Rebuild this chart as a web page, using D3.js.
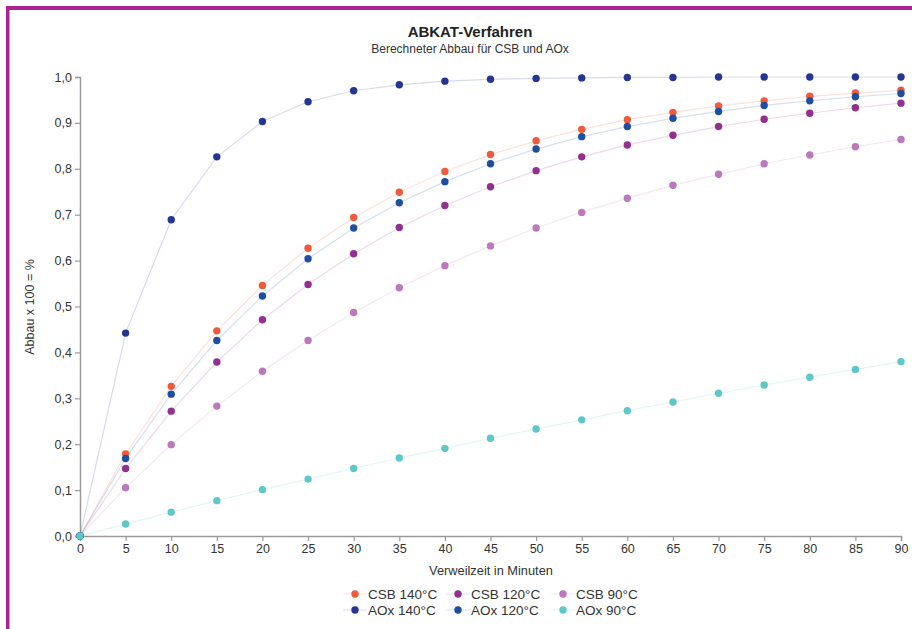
<!DOCTYPE html>
<html>
<head>
<meta charset="utf-8">
<script src="https://cdn.jsdelivr.net/npm/d3@7"></script>
<style>
  body { margin: 0; background: #fff; }
  svg { display: block; font-family: "Liberation Sans", Arial, sans-serif; }
</style>
</head>
<body>
<svg id="chart" width="912" height="629"></svg>
<script>
const minutes = [0, 5, 10, 15, 20, 25, 30, 35, 40, 45, 50, 55, 60, 65, 70, 75, 80, 85, 90];

const csb140 = [0, 0.179, 0.326, 0.447, 0.546, 0.627, 0.694, 0.749, 0.794, 0.831, 0.861, 0.886, 0.907, 0.923, 0.937, 0.948, 0.958, 0.965, 0.971];
const csb120 = [0, 0.147, 0.272, 0.379, 0.471, 0.548, 0.615, 0.672, 0.720, 0.761, 0.796, 0.826, 0.852, 0.873, 0.892, 0.908, 0.921, 0.933, 0.943];
const csb90 = [0, 0.105, 0.199, 0.283, 0.359, 0.426, 0.487, 0.541, 0.589, 0.632, 0.671, 0.705, 0.736, 0.764, 0.788, 0.811, 0.830, 0.848, 0.864];
const aox140 = [0, 0.442, 0.689, 0.826, 0.903, 0.946, 0.970, 0.983, 0.991, 0.995, 0.997, 0.998, 0.999, 0.999, 1.0, 1.0, 1.0, 1.0, 1.0];
const aox120 = [0, 0.169, 0.309, 0.426, 0.523, 0.604, 0.671, 0.726, 0.772, 0.811, 0.843, 0.870, 0.892, 0.910, 0.925, 0.938, 0.948, 0.957, 0.964];
const aox90 = [0, 0.026, 0.052, 0.077, 0.101, 0.124, 0.147, 0.170, 0.191, 0.213, 0.233, 0.253, 0.273, 0.292, 0.311, 0.329, 0.346, 0.363, 0.380];

const yTicks = [0, 0.1, 0.2, 0.3, 0.4, 0.5, 0.6, 0.7, 0.8, 0.9, 1.0];

// legend order: row by row
const series = [
  { name: 'CSB 140°C', values: csb140, color: '#ef5a3a' },
  { name: 'CSB 120°C', values: csb120, color: '#93308f' },
  { name: 'CSB 90°C', values: csb90, color: '#bb78bb' },
  { name: 'AOx 140°C', values: aox140, color: '#263592' },
  { name: 'AOx 120°C', values: aox120, color: '#1d4ea1' },
  { name: 'AOx 90°C', values: aox90, color: '#5ec8c9' }
];

const svg = d3.select('#chart');

// magenta frame
svg.append('rect').attr('x', 6).attr('y', 6).attr('width', 906).attr('height', 4).attr('fill', '#ab2391');
svg.append('rect').attr('x', 6).attr('y', 6).attr('width', 3.5).attr('height', 623).attr('fill', '#ab2391');

svg.append('text').attr('x', 470).attr('y', 37).attr('text-anchor', 'middle')
  .attr('font-size', 15).attr('font-weight', 'bold').attr('fill', '#222').text('ABKAT-Verfahren');
svg.append('text').attr('x', 470).attr('y', 53).attr('text-anchor', 'middle')
  .attr('font-size', 12).attr('fill', '#333').text('Berechneter Abbau für CSB und AOx');

const x = d3.scaleLinear().domain([0, 90]).range([80, 901]);
const y = d3.scaleLinear().domain([0, 1]).range([536, 77]);

const fmt = d3.format('.1f');

const xAxis = svg.append('g').attr('transform', `translate(0,${y(0)})`)
  .call(d3.axisBottom(x).tickValues(minutes).tickSize(5).tickPadding(3));
const yAxis = svg.append('g').attr('transform', `translate(${x(0)},0)`)
  .call(d3.axisLeft(y).tickValues(yTicks).tickSize(5).tickPadding(3).tickFormat(d => fmt(d).replace('.', ',')));

[xAxis, yAxis].forEach(a => {
  a.select('.domain').attr('stroke', '#9a9a9a').attr('stroke-width', 1.5);
  a.selectAll('.tick line').attr('stroke', '#9a9a9a').attr('stroke-width', 1.2);
  a.selectAll('.tick text').attr('fill', '#333').attr('font-size', 12.5)
    .attr('font-family', '"Liberation Sans", Arial, sans-serif');
});

svg.append('text').attr('x', 491).attr('y', 575).attr('text-anchor', 'middle')
  .attr('font-size', 12.8).attr('fill', '#333').text('Verweilzeit in Minuten');
svg.append('text').attr('transform', 'translate(34,307) rotate(-90)').attr('text-anchor', 'middle')
  .attr('font-size', 12.5).attr('fill', '#333').text('Abbau x 100 = %');

const line = d3.line().x((d, i) => x(minutes[i])).y(d => y(d));

const plot = svg.append('g');
series.forEach(s => {
  plot.append('path').datum(s.values).attr('d', line).attr('fill', 'none')
    .attr('stroke', s.color).attr('stroke-opacity', 0.18).attr('stroke-width', 1.2);
});
series.forEach(s => {
  plot.append('g').selectAll('circle').data(s.values).join('circle')
    .attr('cx', (d, i) => x(minutes[i])).attr('cy', d => y(d)).attr('r', 3.7)
    .attr('fill', s.color);
});

// legend
const legX = [355, 458, 563];
const legY = [594, 610];
const legend = svg.append('g');
series.forEach((s, i) => {
  const cx = legX[i % 3], cy = legY[Math.floor(i / 3)];
  const g = legend.append('g').attr('transform', `translate(${cx},${cy})`);
  g.append('line').attr('x1', -12).attr('x2', 12).attr('stroke', s.color).attr('stroke-opacity', 0.15).attr('stroke-width', 1.2);
  g.append('circle').attr('r', 3.7).attr('fill', s.color);
  g.append('text').attr('x', 13).attr('y', 5).attr('font-size', 13.5).attr('fill', '#333').text(s.name);
});
</script>
</body>
</html>
